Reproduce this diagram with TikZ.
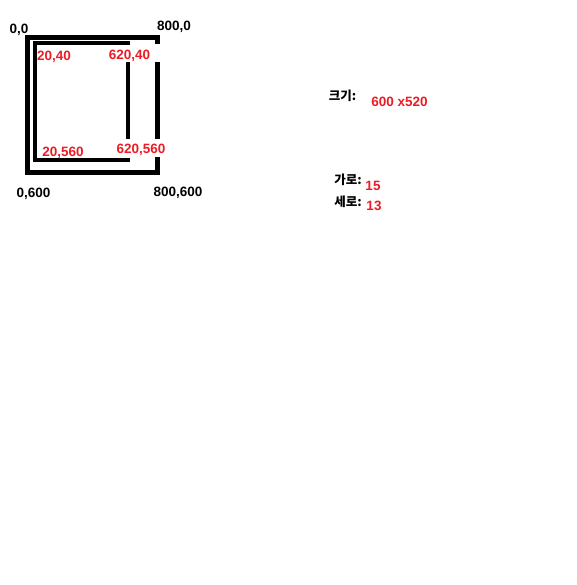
\documentclass[tikz,border=0pt]{standalone}
\usepackage{fontspec}
\setmainfont{Liberation Sans}
\newfontfamily\kr{Noto Sans CJK KR}
\definecolor{pred}{RGB}{237,28,36}
\begin{document}
\begin{tikzpicture}[x=1pt,y=-1pt,
  lbl/.style={inner sep=0pt, font=\bfseries\fontsize{13.5}{15}\selectfont},
  rlbl/.style={lbl, text=pred},
  klbl/.style={inner sep=0pt, font=\kr\bfseries\fontsize{12.5}{14}\selectfont},
  outerline/.style={line width=5pt, line join=miter},
  innerline/.style={line width=4pt, line join=miter}]
\useasboundingbox[fill=white] (0,0) rectangle (576,585);
% outer frame
\draw[outerline] (157.5,44) -- (157.5,37.5) -- (27.5,37.5) -- (27.5,172.5) -- (157.5,172.5) -- (157.5,157);
\draw[outerline] (157.5,62) -- (157.5,139);
% inner frame
\draw[innerline] (130,43.5) -- (34.5,43.5) -- (34.5,160) -- (130,160);
\draw[innerline] (128,62) -- (128,139);
% black corner labels
\node[lbl] (p00) at (19,29.5) {0,0};
\node[lbl] (p800) at (174,27) {800,0};
\node[lbl] (p0600) at (33.5,194) {0,600};
\node[lbl] (p800600) at (178,192.5) {800,600};
% red labels
\node[rlbl] (r2040) at (54,56.5) {20,40};
\node[rlbl] (r62040) at (129.5,56) {620,40};
\node[rlbl] (r20560) at (63,152.5) {20,560};
\node[rlbl] (r620560) at (141,150) {620,560};
% right info
\node[klbl] (size) at (342.5,96) {크기:};
\node[rlbl] (sizev) at (399.5,101.5) {600 x520};
\node[klbl] (garo) at (348,180) {가로:};
\node[rlbl] (garov) at (373,186) {15};
\node[klbl] (sero) at (348,201.5) {세로:};
\node[rlbl] (serov) at (374,206) {13};
\end{tikzpicture}
\end{document}
